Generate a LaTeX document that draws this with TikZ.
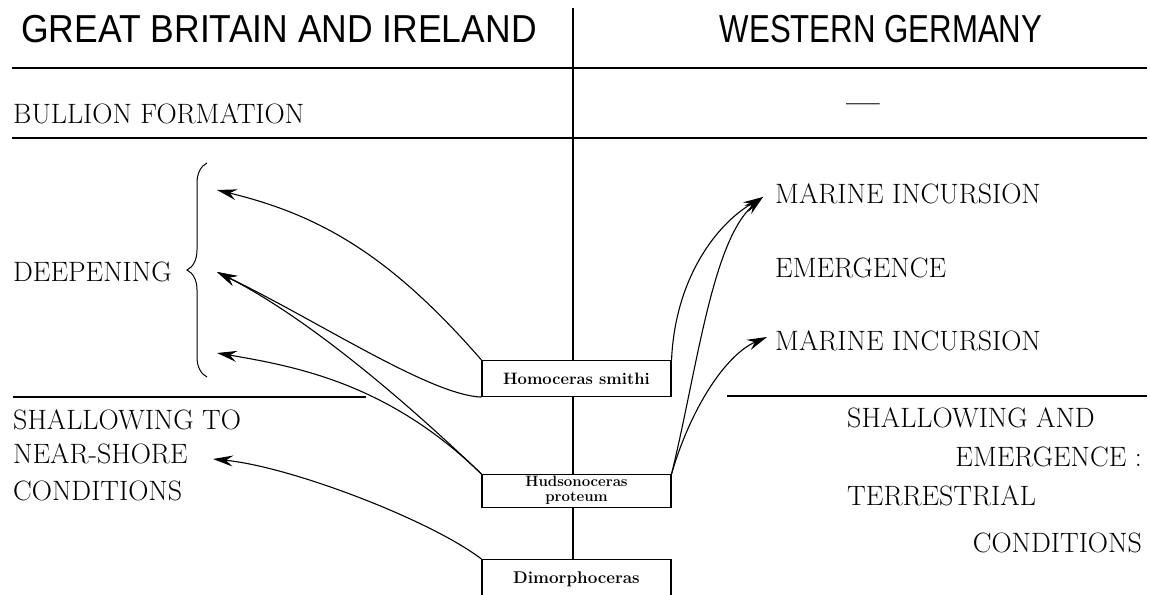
\documentclass[tikz,border=0pt]{standalone}
\usepackage{fontspec}
\newfontfamily\headA[FakeStretch=0.91]{Liberation Sans}
\newfontfamily\headB[FakeStretch=0.80]{Liberation Sans}
\usetikzlibrary{arrows.meta,decorations.pathreplacing}
\tikzset{
  rule/.style={line width=1.3pt},
  lbl/.style={inner sep=0pt, font=\fontsize{28}{32}\selectfont},
  fbox/.style={draw, fill=white, line width=1.1pt, inner sep=0pt, minimum width=189pt},
  ftxt/.style={inner sep=0pt, font=\fontsize{16.5}{12}\selectfont\bfseries},
  arr/.style={line width=1.1pt, -{Stealth[length=20pt,width=11pt,inset=7pt]}},
}
\begin{document}
\begin{tikzpicture}[x=1pt,y=-1pt]
\useasboundingbox (0,0) rectangle (1150,594);
\clip (0,0) rectangle (1150,594);
% headers
\node[inner sep=0pt, anchor=base, font={\fontsize{39}{40}\headA}] (gb) at (279,43) {GREAT BRITAIN AND IRELAND};
\node[inner sep=0pt, anchor=base, font={\fontsize{39}{40}\headB}] (wg) at (881,43) {WESTERN GERMANY};
% rules
\draw[rule] (573,8) -- (573,594);
\draw[rule] (12,68) -- (1147,68);
\draw[rule] (12,138) -- (1147,138);
\draw[rule] (13,397) -- (366,397);
\draw[rule] (727,396) -- (1147,396);
% left texts
\node[lbl, anchor=base west] (bf) at (13,123) {BULLION FORMATION};
\node[lbl, anchor=base, font=\fontsize{30}{32}\bfseries] (dash) at (863,112) {---};
\node[lbl, anchor=base west] (dp) at (13,281) {DEEPENING};
\draw[line width=1pt, decorate, decoration={brace, amplitude=20pt}] (207,377) -- (207,163);
\node[lbl, anchor=base west] (sh1) at (13,429) {SHALLOWING TO};
\node[lbl, anchor=base west] (sh2) at (13,463) {NEAR-SHORE};
\node[lbl, anchor=base west] (sh3) at (13,500) {CONDITIONS};
% right texts
\node[lbl, anchor=base west] (mi1) at (775,203) {MARINE INCURSION};
\node[lbl, anchor=base west] (em) at (775,277) {EMERGENCE};
\node[lbl, anchor=base west] (mi2) at (775,350) {MARINE INCURSION};
\node[lbl, anchor=base west] (sa1) at (847,427) {SHALLOWING AND};
\node[lbl, anchor=base east] (sa2) at (1142,466) {EMERGENCE :};
\node[lbl, anchor=base west] (sa3) at (847,505) {TERRESTRIAL};
\node[lbl, anchor=base east] (sa4) at (1142,552) {CONDITIONS};
% fossil boxes
\node[fbox, ftxt, anchor=north, text height=24pt, text depth=12pt] (hom) at (576.5,360) {Homoceras smithi};
\node[fbox, anchor=north, minimum height=33pt] (hud) at (576.5,474) {};
\node[ftxt, align=center, font=\fontsize{15}{15}\selectfont\bfseries] (hudT) at ([yshift=0.5pt]hud.center) {Hudsonoceras\\proteum};
\node[fbox, ftxt, font=\fontsize{17}{20}\selectfont\bfseries, anchor=north, text height=24pt, text depth=22pt] (dim) at (576.5,559) {Dimorphoceras};
% arrow tips
\coordinate (d1) at (217,190);
\coordinate (d2) at (217,272);
\coordinate (d3) at (217,353);
\coordinate (ns) at (213,459);
\coordinate (m1) at (763,197);
\coordinate (m2) at (767,337);
% connectors
\draw[arr] (hom.north west) .. controls (390,255) and (320,215) .. (d1);
\draw[arr] (hud.north west) .. controls (379,376) and (291,309) .. (d2);
\draw[arr] (hom.south west) .. controls (430,395) and (320,322) .. (d2);
\draw[arr] (hud.north west) .. controls (390,385) and (300,367) .. (d3);
\draw[arr] (dim.north west) .. controls (432,521) and (293,467) .. (ns);
\draw[arr] (hom.north east) .. controls (675,280) and (715,225) .. (m1);
\draw[arr] (hud.north east) .. controls (697,370) and (712,240) .. (m1);
\draw[arr] (hud.north east) .. controls (690,410) and (725,355) .. (m2);
\end{tikzpicture}
\end{document}
